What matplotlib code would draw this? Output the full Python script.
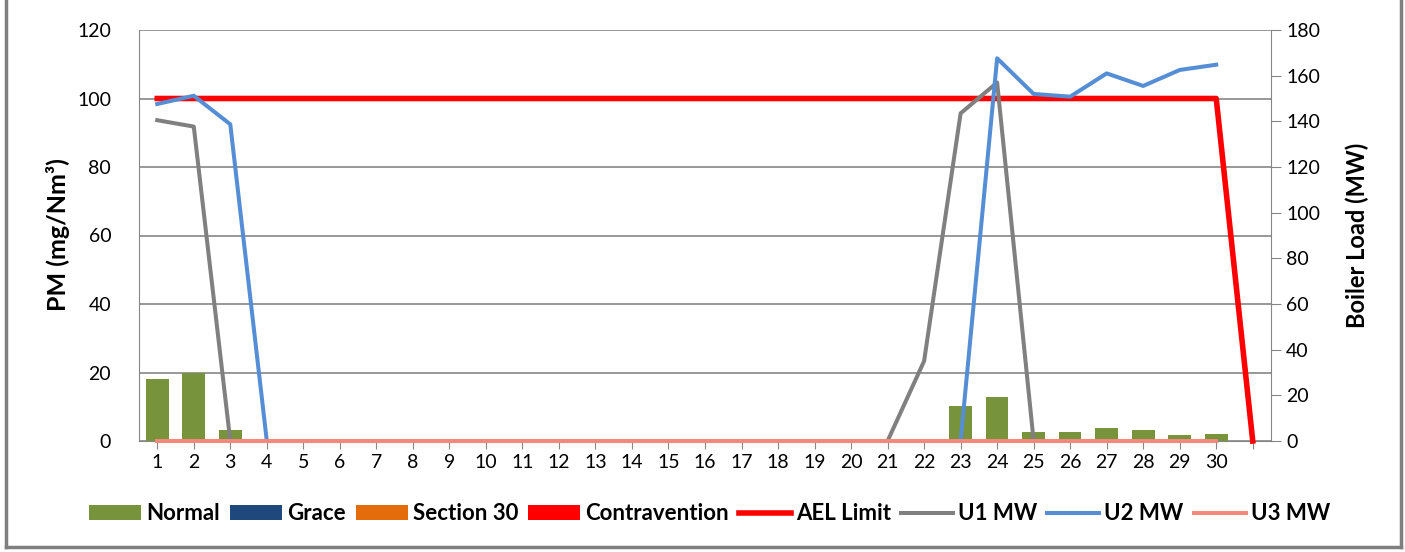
import matplotlib
matplotlib.use('Agg')
import matplotlib.pyplot as plt
from matplotlib.lines import Line2D
import numpy as np

plt.rcParams['font.family'] = ['Lato', 'DejaVu Sans']

nan = np.nan

# day index 1..31 (31 has no label)
days = list(range(1, 32))
day_labels = [str(d) for d in range(1, 31)] + ['']

# PM bars (mg/Nm3), left axis
normal = [18.2, 19.8, 3.1, 0, 0, 0, 0, 0, 0, 0,
          0, 0, 0, 0, 0, 0, 0, 0, 0, 0,
          0, 0, 10.3, 12.8, 2.6, 2.6, 3.7, 3.2, 1.8, 1.9, 0]
grace = [0] * 31
section30 = [0] * 31
contravention = [0] * 31

# AEL limit (left axis)
ael_limit = [100] * 30 + [0]

# boiler load (MW), right axis
u1_mw = [140.5, 137.7, 0, 0, 0, 0, 0, 0, 0, 0,
         0, 0, 0, 0, 0, 0, 0, 0, 0, 0,
         0, 35, 143.5, 157, 0, 0, 0, 0, 0, 0, nan]
u2_mw = [147.6, 151.2, 138.7, 0, 0, 0, 0, 0, 0, 0,
         0, 0, 0, 0, 0, 0, 0, 0, 0, 0,
         0, 0, 0, 167.6, 152, 150.8, 161, 155.5, 162.5, 164.8, nan]
u3_mw = [0] * 30 + [nan]

W, H = 1405, 552
fig = plt.figure(figsize=(W / 100, H / 100), dpi=100)
ax = fig.add_axes([139 / W, 1 - 441 / H, (1271 - 139) / W, (441 - 30) / H])
ax2 = ax.twinx()

grid_col = '#868686'
x = np.array(days)

# bars (stacked)
bw = 0.62
b_normal = ax.bar(x, normal, bw, color='#77933C', label='Normal', zorder=2)
bot = np.array(normal)
b_grace = ax.bar(x, grace, bw, bottom=bot, color='#1F497D', label='Grace', zorder=2)
bot = bot + np.array(grace)
b_s30 = ax.bar(x, section30, bw, bottom=bot, color='#E46C0A', label='Section 30', zorder=2)
bot = bot + np.array(section30)
b_con = ax.bar(x, contravention, bw, bottom=bot, color='#FF0000', label='Contravention', zorder=2)

l_ael, = ax.plot(x, ael_limit, color='#FF0000', lw=4.0, label='AEL Limit', zorder=3,
                 clip_on=False)

l_u1, = ax2.plot(x, u1_mw, color='#808080', lw=2.9, label='U1 MW', clip_on=False)
l_u2, = ax2.plot(x, u2_mw, color='#558ED5', lw=2.9, label='U2 MW', clip_on=False)
l_u3, = ax2.plot(x, u3_mw, color='#F4897B', lw=2.9, label='U3 MW', clip_on=False)

ax.set_xlim(0.5, 31.5)
ax.set_ylim(0, 120)
ax2.set_ylim(0, 180)
ax.set_yticks(range(0, 121, 20))
ax2.set_yticks(range(0, 181, 20))
ax.set_xticks(x)
ax.set_xticklabels(day_labels)

ax.grid(axis='y', color=grid_col, lw=1.2, zorder=0)
ax.set_axisbelow(True)

for a in (ax, ax2):
    for s in a.spines.values():
        s.set_visible(False)
ax.spines['left'].set_visible(True)
ax.spines['left'].set_color(grid_col)
ax.spines['bottom'].set_visible(True)
ax.spines['bottom'].set_color(grid_col)
ax2.spines['right'].set_visible(True)
ax2.spines['right'].set_color(grid_col)

ax.tick_params(axis='y', length=0, pad=20, labelsize=14)
ax.tick_params(axis='x', length=6, color=grid_col, pad=3, labelsize=14)
ax2.tick_params(axis='y', length=7, color=grid_col, pad=4, labelsize=14)

# axis titles placed by pixel centre
fig.text(57.5 / W, 1 - 235 / H, 'PM (mg/Nm³)', rotation=90, ha='center', va='center',
         fontsize=18, fontweight='bold')
fig.text(1357 / W, 1 - 235 / H, 'Boiler Load (MW)', rotation=90, ha='center', va='center',
         fontsize=17, fontweight='bold')

handles = [b_normal, b_grace, b_s30, b_con, l_ael, l_u1, l_u2, l_u3]
fig.legend(handles=handles, labels=[h.get_label() for h in handles],
           loc='center', bbox_to_anchor=(0.505, 1 - 514 / H), ncol=8,
           frameon=False, prop={'size': 16, 'weight': 'bold'},
           handlelength=2.35, handleheight=0.65, handletextpad=0.22,
           columnspacing=0.45)

# outer chart border
bc = '#7F7F7F'
fig.add_artist(Line2D([6 / W, 6 / W], [1 - 547 / H, 1.0], color=bc, lw=2.5))
fig.add_artist(Line2D([1401 / W, 1401 / W], [1 - 547 / H, 1.0], color=bc, lw=2.5))
fig.add_artist(Line2D([6 / W, 1401 / W], [1 - 547 / H, 1 - 547 / H], color=bc, lw=2.5))

fig.savefig('out.png', dpi=100)
